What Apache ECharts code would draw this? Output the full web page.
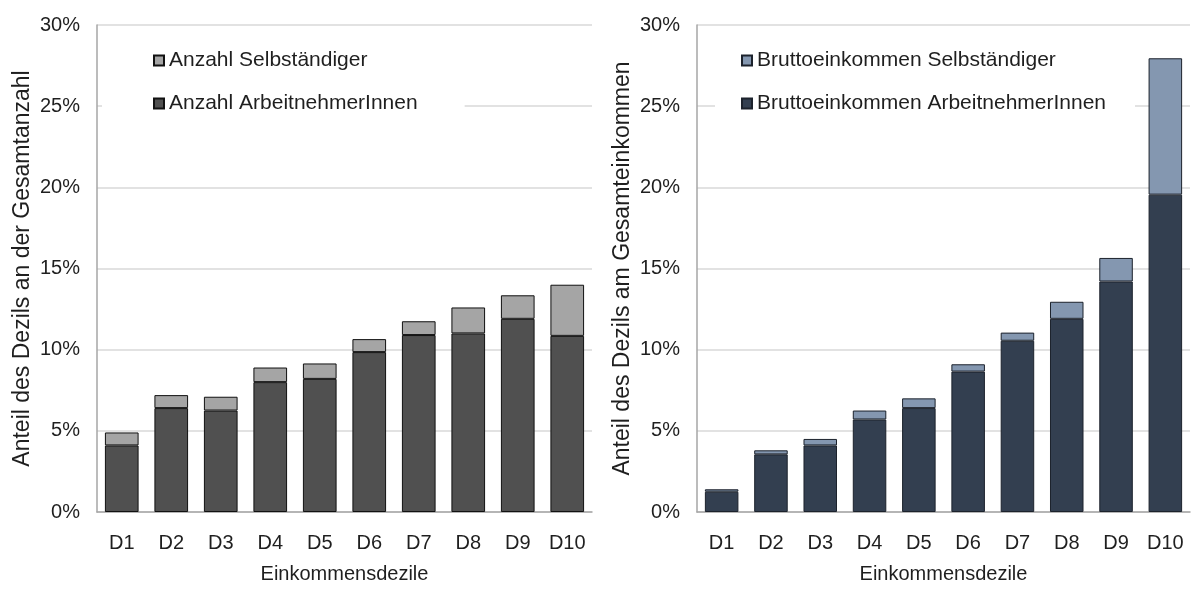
<!DOCTYPE html>
<html>
<head>
<meta charset="utf-8">
<script src="https://cdn.jsdelivr.net/npm/echarts@6/dist/echarts.min.js"></script>
<style>
  html, body { margin: 0; padding: 0; background: #ffffff; }
  #chart-container { width: 1195px; height: 589px; }
</style>
</head>
<body>
<div id="chart-container"></div>
<script>
const categories = ['D1', 'D2', 'D3', 'D4', 'D5', 'D6', 'D7', 'D8', 'D9', 'D10'];

// left chart: share of persons (%)
const countEmployees = [4.1, 6.4, 6.25, 8.0, 8.2, 9.85, 10.9, 11.0, 11.9, 10.85];
const countSelfEmployed = [0.8, 0.8, 0.85, 0.9, 0.95, 0.8, 0.85, 1.6, 1.45, 3.15];

// right chart: share of gross income (%)
const incomeEmployees = [1.25, 3.55, 4.1, 5.7, 6.4, 8.65, 10.55, 11.9, 14.2, 19.55];
const incomeSelfEmployed = [0.15, 0.25, 0.4, 0.55, 0.6, 0.45, 0.5, 1.05, 1.45, 8.4];

const yMin = 0;
const yMax = 30;
const yStep = 5;

const textColor = '#1f1f1f';
const axisColor = '#a6a6a6';
const gridColor = '#d9d9d9';
const fontFamily = '"Liberation Sans", Arial, sans-serif';

const chartContainer = document.getElementById('chart-container');
const myChart = echarts.init(chartContainer);

const makeYAxis = (gridIndex, name) => ({
    type: 'value',
    gridIndex: gridIndex,
    min: yMin,
    max: yMax,
    interval: yStep,
    name: name,
    nameLocation: 'middle',
    nameGap: 63,
    nameTextStyle: { fontSize: 23, color: textColor, fontFamily: fontFamily },
    axisLabel: {
        formatter: '{value}%',
        fontSize: 20,
        margin: 17,
        color: textColor,
        fontFamily: fontFamily
    },
    axisLine: { show: true, lineStyle: { color: axisColor, width: 1.5 } },
    axisTick: { show: false },
    splitLine: { show: true, lineStyle: { color: gridColor, width: 1.5 } }
});

const makeXAxis = (gridIndex) => ({
    type: 'category',
    gridIndex: gridIndex,
    data: categories,
    name: 'Einkommensdezile',
    nameLocation: 'middle',
    nameGap: 52,
    nameTextStyle: { fontSize: 20, color: textColor, fontFamily: fontFamily },
    axisLabel: { fontSize: 20, margin: 21, color: textColor, fontFamily: fontFamily },
    axisLine: { show: true, lineStyle: { color: axisColor, width: 1.5 } },
    axisTick: { show: false }
});

const makeBar = (name, data, axisIndex, stack, color, border) => ({
    name: name,
    type: 'bar',
    stack: stack,
    xAxisIndex: axisIndex,
    yAxisIndex: axisIndex,
    barWidth: '68%',
    itemStyle: { color: color, borderColor: border, borderWidth: 1 },
    data: data
});

const legendText = { fontSize: 21, color: textColor, fontFamily: fontFamily };

const options = {
    backgroundColor: '#ffffff',
    animation: false,
    grid: [
        { left: 97, top: 25, width: 495, height: 495 },
        { left: 697, top: 25, width: 493, height: 495 }
    ],
    legend: [
        {
            data: ['Anzahl Selbständiger', 'Anzahl ArbeitnehmerInnen'],
            orient: 'vertical',
            icon: 'rect',
            left: 102,
            top: 32,
            padding: [18, 47, 18, 51],
            backgroundColor: '#ffffff',
            itemWidth: 10,
            itemHeight: 10,
            itemGap: 22,
            textStyle: legendText
        },
        {
            data: ['Bruttoeinkommen Selbständiger', 'Bruttoeinkommen ArbeitnehmerInnen'],
            orient: 'vertical',
            icon: 'rect',
            left: 715,
            top: 32,
            padding: [18, 29, 18, 26],
            backgroundColor: '#ffffff',
            itemWidth: 10,
            itemHeight: 10,
            itemGap: 22,
            textStyle: legendText
        }
    ],
    xAxis: [makeXAxis(0), makeXAxis(1)],
    yAxis: [
        makeYAxis(0, 'Anteil des Dezils an der Gesamtanzahl'),
        makeYAxis(1, 'Anteil des Dezils am Gesamteinkommen')
    ],
    series: [
        makeBar('Anzahl ArbeitnehmerInnen', countEmployees, 0, 'count', '#505050', '#111111'),
        makeBar('Anzahl Selbständiger', countSelfEmployed, 0, 'count', '#a5a5a5', '#111111'),
        makeBar('Bruttoeinkommen ArbeitnehmerInnen', incomeEmployees, 1, 'income', '#333f50', '#1c222c'),
        makeBar('Bruttoeinkommen Selbständiger', incomeSelfEmployed, 1, 'income', '#8497b0', '#1c222c')
    ]
};

myChart.setOption(options);
</script>
</body>
</html>
